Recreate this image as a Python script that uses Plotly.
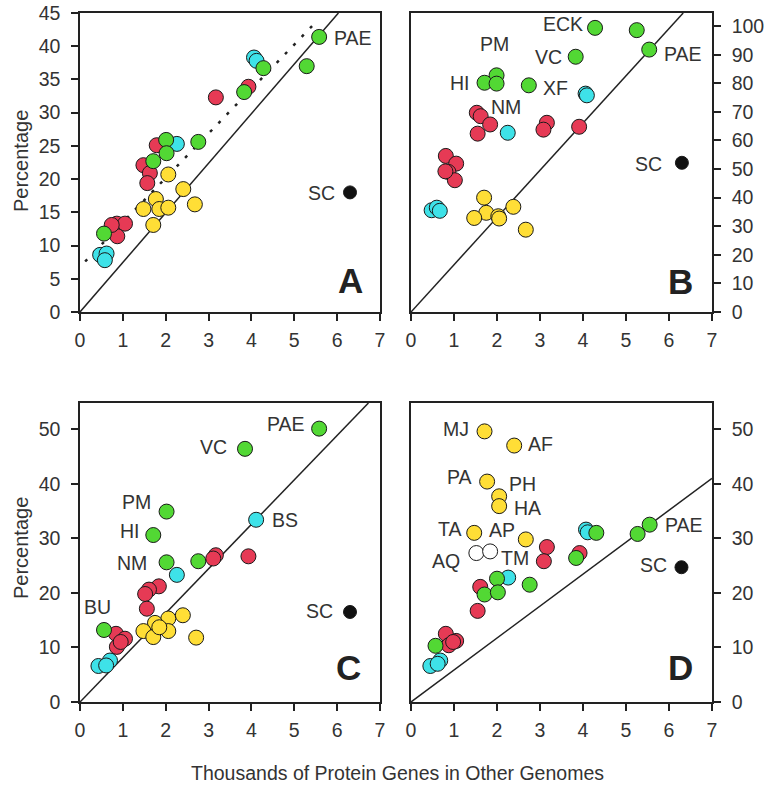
import plotly.graph_objects as go

# ---------------- data ----------------
# Panel A
A_green_x = [5.58, 5.29, 4.28, 3.83, 2.76, 2.01, 2.02, 1.71, 0.56]
A_green_y = [41.4, 37.0, 36.7, 33.1, 25.6, 25.9, 23.9, 22.7, 11.8]
A_cyan_x = [4.06, 4.12, 2.26, 0.47, 0.62, 0.58]
A_cyan_y = [38.3, 37.8, 25.3, 8.6, 8.8, 7.8]
A_red_x = [3.93, 3.17, 1.79, 1.48, 1.63, 1.57, 0.86, 1.05, 0.87, 0.74]
A_red_y = [33.9, 32.3, 25.1, 22.1, 20.9, 19.4, 13.3, 13.3, 11.4, 13.1]
A_yellow_x = [2.06, 2.41, 1.77, 1.48, 1.85, 2.06, 2.68, 1.71]
A_yellow_y = [20.7, 18.5, 17.0, 15.5, 15.5, 15.7, 16.2, 13.1]
A_sc = (6.30, 18.0)
A_line_x = [0, 6.03]
A_line_y = [0, 45]
A_dot_x = [0.12, 5.56]
A_dot_y = [7.6, 44.0]

# Panel B
B_green_x = [4.28, 5.25, 5.54, 3.83, 1.99, 1.71, 1.99, 2.74]
B_green_y = [99.4, 98.6, 91.8, 89.3, 82.8, 80.2, 79.9, 79.3]
B_cyan_x = [4.06, 4.09, 2.25, 0.48, 0.60, 0.67]
B_cyan_y = [76.4, 75.8, 62.7, 35.6, 36.5, 35.4]
B_red_x = [1.53, 1.62, 1.84, 1.55, 3.16, 3.08, 3.91, 0.81, 1.05, 0.87, 1.02, 0.80]
B_red_y = [69.7, 68.5, 65.6, 62.4, 66.2, 63.8, 64.8, 54.6, 51.9, 49.0, 46.1, 49.2]
B_yellow_x = [1.70, 1.75, 1.47, 2.03, 2.05, 2.38, 2.67]
B_yellow_y = [40.0, 34.7, 32.9, 33.5, 32.7, 36.8, 28.8]
B_sc = (6.30, 52.2)
B_line_x = [0, 6.33]
B_line_y = [0, 104.6]

# Panel C
C_green_x = [5.58, 3.85, 2.02, 1.71, 2.02, 2.76, 0.56]
C_green_y = [50.1, 46.4, 34.9, 30.6, 25.6, 25.8, 13.2]
C_cyan_x = [4.11, 2.26, 0.43, 0.70, 0.61]
C_cyan_y = [33.4, 23.3, 6.6, 7.6, 6.7]
C_red_x = [3.17, 3.11, 3.93, 1.84, 1.61, 1.52, 1.56, 0.84, 0.86, 1.05, 0.95]
C_red_y = [26.9, 26.3, 26.7, 21.2, 20.6, 19.8, 17.1, 12.5, 10.1, 11.6, 11.0]
C_yellow_x = [2.40, 2.06, 1.75, 1.48, 2.06, 1.71, 2.71, 1.85]
C_yellow_y = [15.9, 15.3, 14.5, 13.0, 13.0, 11.9, 11.8, 13.7]
C_sc = (6.30, 16.5)
C_line_x = [0, 6.73]
C_line_y = [0, 54.8]

# Panel D
D_yellow_x = [1.71, 2.40, 1.77, 2.05, 2.05, 1.47, 2.67]
D_yellow_y = [49.6, 47.0, 40.4, 37.7, 35.9, 31.0, 29.8]
D_white_x = [1.52, 1.84]
D_white_y = [27.3, 27.6]
D_red_x = [3.16, 3.09, 3.92, 1.61, 1.55, 0.81, 1.05, 0.88, 0.98]
D_red_y = [28.4, 25.8, 27.3, 21.1, 16.7, 12.5, 11.2, 10.4, 11.0]
D_green_x = [5.55, 5.27, 4.31, 3.84, 2.00, 1.71, 2.02, 2.76, 0.57]
D_green_y = [32.5, 30.8, 31.0, 26.4, 22.6, 19.7, 20.1, 21.5, 10.3]
D_cyan_x = [4.07, 4.11, 2.26, 0.45, 0.68, 0.62]
D_cyan_y = [31.6, 31.1, 22.8, 6.6, 7.6, 7.0]
D_sc = (6.29, 24.7)
D_line_x = [0, 7.0]
D_line_y = [0, 41.0]

# Text labels: (text, x, y)
A_labels = [("PAE", 6.36, 41.2), ("SC", 5.64, 17.9)]
B_labels = [("ECK", 3.53, 100.7), ("PM", 1.95, 93.6), ("VC", 3.19, 89.3),
            ("HI", 1.14, 80.2), ("XF", 3.35, 78.2), ("NM", 2.21, 71.8),
            ("PAE", 6.33, 90.4), ("SC", 5.52, 51.9)]
C_labels = [("PAE", 4.81, 51.0), ("VC", 3.11, 46.8), ("PM", 1.32, 36.7),
            ("HI", 1.17, 31.4), ("NM", 1.21, 25.4), ("BU", 0.41, 17.5),
            ("BS", 4.78, 33.3), ("SC", 5.58, 16.7)]
D_labels = [("MJ", 1.05, 50.1), ("AF", 3.01, 47.3), ("PA", 1.12, 41.2),
            ("PH", 2.60, 40.0), ("HA", 2.70, 35.6), ("TA", 0.90, 31.7),
            ("AP", 2.12, 31.6), ("AQ", 0.82, 25.9), ("TM", 2.43, 26.4),
            ("PAE", 6.36, 32.4), ("SC", 5.63, 25.2)]
panel_letters = ["A", "B", "C", "D"]
letter_pos = [(6.3, 4.8), (6.26, 10.6), (6.26, 6.4), (6.26, 6.3)]

x_title = "Thousands of Protein Genes in Other Genomes"
y_title = "Percentage"

# ---------------- styling ----------------
RED = "#E63A55"
GREEN = "#52D834"
CYAN = "#3EE2E8"
YELLOW = "#FFDE36"
W, H = 764, 788
FONT = "Liberation Sans, Arial, sans-serif"
TXT = "#333333"
FS = 19.5

fig = go.Figure()

def add_pts(xs, ys, color, xa, ya, size=15):
    fig.add_trace(go.Scatter(x=xs, y=ys, mode="markers", xaxis=xa, yaxis=ya,
                             marker=dict(size=size, color=color,
                                         line=dict(color="#1a1a1a", width=1)),
                             showlegend=False, hoverinfo="skip"))

def add_line(xs, ys, xa, ya, dash="solid", width=1.5):
    fig.add_trace(go.Scatter(x=xs, y=ys, mode="lines", xaxis=xa, yaxis=ya,
                             line=dict(color="#222222", width=width, dash=dash),
                             showlegend=False, hoverinfo="skip"))

# Panel A (x, y)
add_line(A_line_x, A_line_y, "x", "y")
add_line(A_dot_x, A_dot_y, "x", "y", dash="3px,9px", width=2.5)
add_pts(A_yellow_x, A_yellow_y, YELLOW, "x", "y")
add_pts(A_red_x, A_red_y, RED, "x", "y")
add_pts(A_cyan_x, A_cyan_y, CYAN, "x", "y")
add_pts(A_green_x, A_green_y, GREEN, "x", "y")
add_pts([A_sc[0]], [A_sc[1]], "#111111", "x", "y", size=13)

# Panel B (x2, y2)
add_line(B_line_x, B_line_y, "x2", "y2")
add_pts(B_yellow_x, B_yellow_y, YELLOW, "x2", "y2")
add_pts(B_red_x, B_red_y, RED, "x2", "y2")
add_pts(B_cyan_x, B_cyan_y, CYAN, "x2", "y2")
add_pts(B_green_x, B_green_y, GREEN, "x2", "y2")
add_pts([B_sc[0]], [B_sc[1]], "#111111", "x2", "y2", size=13)

# Panel C (x3, y3)
add_line(C_line_x, C_line_y, "x3", "y3")
add_pts(C_yellow_x, C_yellow_y, YELLOW, "x3", "y3")
add_pts(C_red_x, C_red_y, RED, "x3", "y3")
add_pts(C_cyan_x, C_cyan_y, CYAN, "x3", "y3")
add_pts(C_green_x, C_green_y, GREEN, "x3", "y3")
add_pts([C_sc[0]], [C_sc[1]], "#111111", "x3", "y3", size=13)

# Panel D (x4, y4)
add_line(D_line_x, D_line_y, "x4", "y4")
add_pts(D_yellow_x, D_yellow_y, YELLOW, "x4", "y4")
add_pts(D_white_x, D_white_y, "#ffffff", "x4", "y4")
add_pts(D_red_x, D_red_y, RED, "x4", "y4")
add_pts(D_cyan_x, D_cyan_y, CYAN, "x4", "y4")
add_pts(D_green_x, D_green_y, GREEN, "x4", "y4")
add_pts([D_sc[0]], [D_sc[1]], "#111111", "x4", "y4", size=13)

# ---------------- axes ----------------
def px_dom(a, b, total):
    return [a / total, b / total]

def ydom(top, bottom):
    return [1 - bottom / H, 1 - top / H]

xl = px_dom(80, 380, W)
xr = px_dom(411, 712, W)
yt = ydom(13, 312)
yb = ydom(403, 702)

common_x = dict(range=[0, 7], dtick=1, tick0=0, showgrid=False, zeroline=False,
                showline=True, linecolor="#222222", linewidth=1.5, mirror=True,
                ticks="outside", ticklen=7, tickwidth=1.5, tickcolor="#222222",
                automargin=False, ticklabelstandoff=3,
                tickfont=dict(family=FONT, size=FS, color=TXT))
common_y = dict(showgrid=False, zeroline=False, showline=True, linecolor="#222222",
                linewidth=1.5, mirror=True, ticks="outside", ticklen=7, tickwidth=1.5,
                tickcolor="#222222", tickfont=dict(family=FONT, size=FS, color=TXT),
                automargin=False, ticklabelstandoff=7)

fig.update_layout(
    template="none",
    width=W, height=H, autosize=False,
    margin=dict(l=0, r=0, t=0, b=0, pad=0),
    paper_bgcolor="white", plot_bgcolor="white",
    xaxis=dict(domain=xl, anchor="y", **common_x),
    yaxis=dict(domain=yt, anchor="x", range=[0, 45], dtick=5, **common_y),
    xaxis2=dict(domain=xr, anchor="y2", **common_x),
    yaxis2=dict(domain=yt, anchor="x2", range=[0, 104.6], dtick=10, side="right", **common_y),
    xaxis3=dict(domain=xl, anchor="y3", **common_x),
    yaxis3=dict(domain=yb, anchor="x3", range=[0, 54.8], dtick=10, **common_y),
    xaxis4=dict(domain=xr, anchor="y4", **common_x),
    yaxis4=dict(domain=yb, anchor="x4", range=[0, 54.8], dtick=10, side="right", **common_y),
)

annotations = []
for labels, xa, ya in [(A_labels, "x", "y"), (B_labels, "x2", "y2"),
                       (C_labels, "x3", "y3"), (D_labels, "x4", "y4")]:
    for t, lx, ly in labels:
        annotations.append(dict(text=t, x=lx, y=ly, xref=xa, yref=ya, showarrow=False,
                                xanchor="center", yanchor="middle",
                                font=dict(family=FONT, size=FS, color=TXT)))
for (letter, (lx, ly)), (xa, ya) in zip(zip(panel_letters, letter_pos),
                                        [("x", "y"), ("x2", "y2"), ("x3", "y3"), ("x4", "y4")]):
    annotations.append(dict(text="<b>%s</b>" % letter, x=lx, y=ly, xref=xa, yref=ya,
                            showarrow=False, xanchor="center", yanchor="middle",
                            font=dict(family=FONT, size=35, color="#222222")))
annotations.append(dict(text=x_title, x=397 / W, y=1 - 773 / H, xref="paper", yref="paper",
                        showarrow=False, xanchor="center", yanchor="middle",
                        font=dict(family=FONT, size=FS, color=TXT)))
for cy in [161, 548]:
    annotations.append(dict(text=y_title, x=21 / W, y=1 - cy / H, xref="paper", yref="paper",
                            textangle=-90, showarrow=False, xanchor="center", yanchor="middle",
                            font=dict(family=FONT, size=20, color=TXT)))
fig.update_layout(annotations=annotations)

fig.write_html("out.html", config={"displayModeBar": False},
               post_script="document.body.style.margin='0';document.body.style.overflow='hidden';")
